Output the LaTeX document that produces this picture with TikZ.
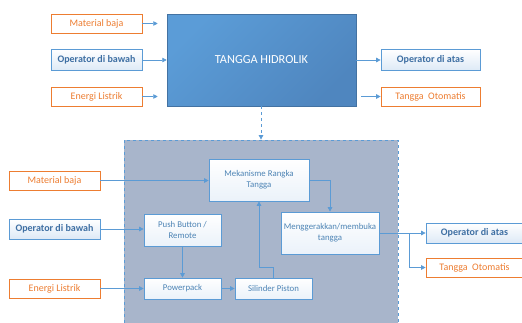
\documentclass[tikz,border=0pt]{standalone}
\usepackage{fontspec}
\setmainfont{Carlito}
\usetikzlibrary{arrows.meta,calc}
\definecolor{obl}{HTML}{5B9BD5}
\definecolor{dbl}{HTML}{3E6FA3}
\definecolor{org}{HTML}{ED7D31}
\definecolor{lbl}{HTML}{DDE9F6}
\definecolor{cont}{HTML}{A8B5CB}
\definecolor{thA}{HTML}{5B9CD7}
\definecolor{thB}{HTML}{4F86BF}
\begin{document}
\begin{tikzpicture}[x=1pt,y=-1pt,
  ob/.style={draw=org,fill=white,line width=0.7pt,text=org,font=\fontsize{10}{11}\selectfont,inner sep=0pt,minimum width=91pt,minimum height=19pt},
  bb/.style={draw=obl,top color=white,bottom color=lbl,line width=0.7pt,text=dbl,font=\fontsize{10}{11}\selectfont\bfseries,inner sep=0pt,minimum width=91pt,minimum height=21pt},
  ib/.style={draw=obl,top color=white,bottom color=lbl!60,line width=0.7pt,text=obl!85!black,font=\fontsize{8.8}{11}\selectfont,inner sep=0pt,align=center},
  con/.style={draw=obl,line width=0.8pt},
  arr/.style={con,-{Triangle[length=4.5pt,width=4.5pt]}}]
\useasboundingbox (0,0) rectangle (522,322);
\clip (0,0) rectangle (522,322);
% top section
\node[ob] (m1) at (96.5,23.5) {Material baja};
\node[bb] (o1) at (96.5,60) {Operator di bawah};
\node[ob] (e1) at (96.5,96.5) {Energi Listrik};
\node[draw=thB!85!black,line width=0.5pt,shading=axis,left color=thA,right color=thB,shading angle=45,minimum width=189pt,minimum height=92pt,inner sep=0pt,text=white,font=\fontsize{12.3}{14}\selectfont] (th) at (261.5,60) {TANGGA HIDROLIK};
\node[bb,minimum width=99pt] (oa1) at (430.5,60) {Operator di atas};
\node[ob,minimum width=99pt] (to1) at (430.5,96.5) {Tangga\ \ Otomatis};
\draw[arr,shorten >=9pt] (m1.east) -- (m1.east -| th.west);
\draw[arr] (o1.east) -- (o1.east -| th.west);
\draw[arr,shorten >=9pt] (e1.east) -- (e1.east -| th.west);
\draw[arr] (th.east |- oa1.west) -- (oa1.west);
\draw[arr,shorten <=5pt] (th.east |- to1.west) -- (to1.west);
% container
\node[draw=obl,dashed,line width=0.8pt,fill=cont,minimum width=274pt,minimum height=190pt,inner sep=0pt] (ct) at (261,235) {};
\draw[arr,dashed] (th.south -| ct.north) -- (ct.north);
% bottom section
\node[ob] (m2) at (54.5,180.5) {Material baja};
\node[bb,minimum height=20pt] (o2) at (54.5,229) {Operator di bawah};
\node[ob] (e2) at (54.5,288.5) {Energi Listrik};
\node[ib,minimum width=100pt,minimum height=42pt] (mek) at (259,180) {Mekanisme Rangka\\Tangga};
\node[ib,minimum width=77pt,minimum height=32pt] (pb) at (182.5,230) {Push Button /\\Remote};
\node[ib,minimum width=77pt,minimum height=21pt] (pp) at (182.5,288.5) {Powerpack};
\node[ib,minimum width=77pt,minimum height=21pt] (sp) at (273.5,288.5) {Silinder Piston};
\node[ib,minimum width=98pt,minimum height=42pt] (mg) at (330,233) {Menggerakkan/membuka\\tangga};
\node[bb,minimum width=97pt,minimum height=20pt] (oa2) at (474.5,233) {Operator di atas};
\node[ob,minimum width=97pt] (to2) at (474.5,267.5) {Tangga\ \ Otomatis};
\draw[arr] (m2.east) -- (m2.east -| mek.west);
\draw[arr] (o2.east) -- (o2.east -| pb.west);
\draw[arr] (e2.east) -- (e2.east -| pp.west);
\draw[arr] (pb.south) -- (pp.north);
\draw[arr] (pp.east) -- (sp.west);
\draw[arr] (sp.north) -- ++(0,-10) -| (mek.south);
\draw[arr] (mek.east) -| (mg.north);
\draw[arr] (mg.east) -- (oa2.west);
\coordinate (br) at (409,233);
\draw[arr] (br) |- (to2.west);
\end{tikzpicture}
\end{document}
